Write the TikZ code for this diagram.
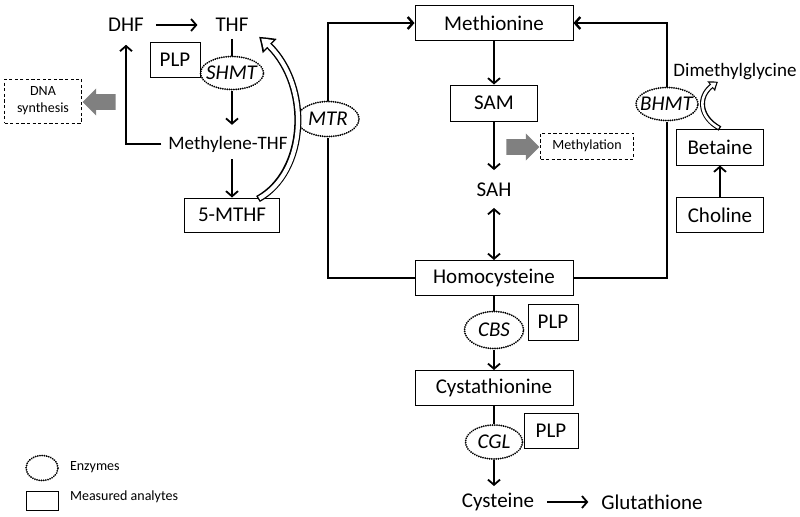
\documentclass[tikz,border=0pt]{standalone}
\usepackage{fontspec}
\setmainfont{Carlito}
\usetikzlibrary{arrows.meta,bending,shapes.geometric,shapes.arrows}

\tikzset{
  box/.style={draw, line width=0.5pt, inner sep=0pt},
  enz/.style={ellipse, draw, line width=1pt, dash pattern=on 0.01pt off 1.1pt, line cap=round, inner sep=0pt},
  dbox/.style={draw, line width=0.5pt, dash pattern=on 1.6pt off 1.2pt, inner sep=0pt, align=center, font=\fontsize{7}{8.5}\selectfont},
  tip/.style={-{Straight Barb[length=2.6pt,width=6pt]}},
  flow/.style={line width=0.9pt, tip},
  ring/.style={line width=1.2pt},
  sm/.style={font=\fontsize{9.5}{11}\selectfont},
  lgd/.style={anchor=west, font=\fontsize{7}{8}\selectfont},
  fat/.style={single arrow, fill=black!50, inner xsep=0pt, inner ysep=3.7pt, minimum height=16.5pt, single arrow head extend=2.9pt, single arrow tip angle=90},
  holout/.style={line width=3.5pt, -{Triangle[length=7pt,width=9.5pt,bend]}},
  holin/.style={line width=2.1pt, white, shorten <=0.7pt, shorten >=1.3pt, -{Triangle[length=5pt,width=6.5pt,bend]}},
}

\begin{document}
\begin{tikzpicture}[x=0.5pt, y=-0.5pt, font=\fontsize{10.5}{12.6}\selectfont]
    \useasboundingbox (0,0) rectangle (800,516);

    \node (dhf) at (126,25) {DHF};
    \node (thf) at (232,25) {THF};
    \node[box, minimum width=25pt, minimum height=17.5pt] (plpa) at (175,60) {PLP};
    \node[enz, minimum width=31.5pt, minimum height=16.5pt, label=center:\textit{SHMT}] (shmt) at (232,73) {};
    \node[sm] (mthf) at (228,144) {Methylene-THF};
    \node[box, minimum width=47.5pt, minimum height=17pt] (fmthf) at (232,215) {5-MTHF};
    \node[dbox, minimum width=38.5pt, minimum height=22pt] (dna) at (43,101) {DNA\\synthesis};
    \node[fat, shape border rotate=180] (dnaa) at (103,102) {};
    \node[enz, minimum width=31pt, minimum height=17.5pt, label=center:\textit{MTR}] (mtr) at (328,119) {};

    \node[box, minimum width=79pt, minimum height=17.5pt] (met) at (494,23) {Methionine};
    \node[box, minimum width=43.5pt, minimum height=18pt] (sam) at (494,103) {SAM};
    \node (sah) at (494,190) {SAH};
    \node[fat] (metha) at (519,147) {};
    \node[dbox, minimum width=46.5pt, minimum height=13pt] (methy) at (587,146) {Methylation};
    \node[box, minimum width=79pt, minimum height=17.5pt] (hcy) at (494,278) {Homocysteine};

    \node[enz, minimum width=31pt, minimum height=16.5pt, label=center:\textit{BHMT}] (bhmt) at (667,104) {};
    \node[sm] (dmg) at (735,72) {Dimethylglycine};
    \node[box, minimum width=43.5pt, minimum height=18pt] (bet) at (720,147) {Betaine};
    \node[box, minimum width=43.5pt, minimum height=17.5pt] (cho) at (720,215) {Choline};

    \node[enz, minimum width=29.5pt, minimum height=18.5pt, label=center:\textit{CBS}] (cbs) at (494,330) {};
    \node[box, minimum width=25pt, minimum height=18pt] (plpb) at (553,322) {PLP};
    \node[box, minimum width=79pt, minimum height=17.5pt] (cth) at (494,388) {Cystathionine};
    \node[enz, minimum width=28.5pt, minimum height=17pt, label=center:\textit{CGL}] (cgl) at (494,442) {};
    \node[box, minimum width=27pt, minimum height=17.5pt] (plpc) at (551,431) {PLP};
    \node (cys) at (498,502) {Cysteine};
    \node (gsh) at (652,502) {Glutathione};

    \node[enz, minimum width=16pt, minimum height=12.5pt] (lenz) at (42,468) {};
    \node[lgd] (lenzt) at (63,467) {Enzymes};
    \node[box, minimum width=16pt, minimum height=9.5pt] (lbox) at (42,501) {};
    \node[lgd] (lboxt) at (63,497) {Measured analytes};

    \coordinate (ha) at (258,199);
    \coordinate (hb) at (259,37);
    \coordinate (hd) at (718,82);

    \draw[flow, shorten <=2.5pt, shorten >=5.5pt] (dhf) to (thf);
    \draw[line width=0.9pt] (thf) to (shmt);
    \draw[flow, shorten >=2pt] (shmt.south) to (shmt.south |- mthf.north);
    \draw[flow] (mthf.south -| fmthf) to (fmthf);
    \draw[flow, shorten >=3pt] (mthf.west) -| (dhf.south);
    \draw[holout] (ha) .. controls (310,170) and (312,75) .. (hb);
    \draw[holin] (ha) .. controls (310,170) and (312,75) .. (hb);

    \draw[ring] (hcy.west) -| (mtr.south);
    \draw[ring, tip] (mtr.north) |- (met.west);
    \draw[ring] (hcy.east) -| (bhmt.south);
    \draw[ring, tip] (bhmt.north) |- (met.east);

    \draw[flow] (met) to (sam);
    \draw[flow, shorten >=3pt] (sam) to (sah);
    \draw[line width=0.9pt, {Straight Barb[length=2.6pt,width=6pt]}-{Straight Barb[length=2.6pt,width=6pt]}, shorten <=2pt] (sah) to (hcy);

    \draw[flow] (cho) to (bet);
    \draw[holout, line width=2.5pt, -{Triangle[length=4pt,width=6pt,bend]}] (bet.north) .. controls (697,116) and (697,92) .. (hd);
    \draw[holin, line width=1.3pt, -{Triangle[length=2.6pt,width=3.6pt,bend]}, shorten >=0.9pt] (bet.north) .. controls (697,116) and (697,92) .. (hd);

    \draw[line width=0.9pt] (hcy) to (cbs);
    \draw[flow] (cbs) to (cth);
    \draw[line width=0.9pt] (cth) to (cgl);
    \draw[flow] (cgl.south) to (cgl.south |- cys.north);
    \draw[flow, shorten <=3pt, shorten >=3pt] (cys) to (gsh);

\end{tikzpicture}
\end{document}
